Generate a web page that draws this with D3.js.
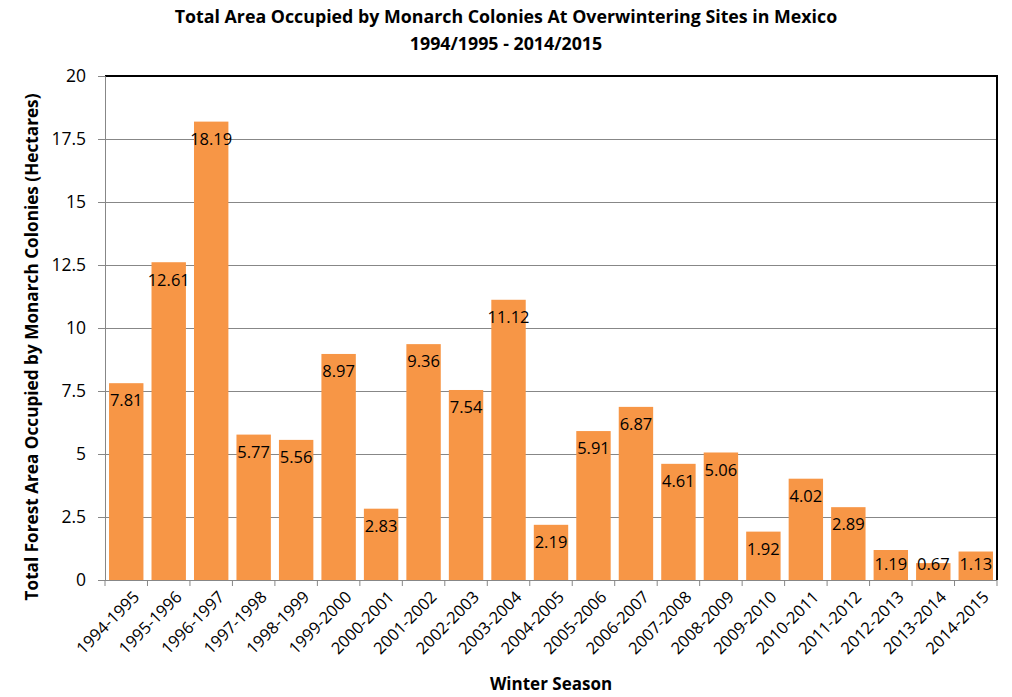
<!DOCTYPE html>
<html><head><meta charset="utf-8">
<script src="https://cdn.jsdelivr.net/npm/d3@7"></script>
<style>body{margin:0;background:#fff}svg{display:block}text{font-family:"Open Sans","Noto Sans",sans-serif}</style>
</head><body><svg id="c" width="1012" height="697"></svg>
<script>
const seasons = ["1994-1995","1995-1996","1996-1997","1997-1998","1998-1999","1999-2000","2000-2001","2001-2002","2002-2003","2003-2004","2004-2005","2005-2006","2006-2007","2007-2008","2008-2009","2009-2010","2010-2011","2011-2012","2012-2013","2013-2014","2014-2015"];
const hectares = [7.81,12.61,18.19,5.77,5.56,8.97,2.83,9.36,7.54,11.12,2.19,5.91,6.87,4.61,5.06,1.92,4.02,2.89,1.19,0.67,1.13];
const yTicks = [0,2.5,5,7.5,10,12.5,15,17.5,20];
const titleLines = ["Total Area Occupied by Monarch Colonies At Overwintering Sites in Mexico","1994/1995 - 2014/2015"];
const yTitle = "Total Forest Area Occupied by Monarch Colonies (Hectares)";
const xTitle = "Winter Season";

const svg = d3.select("#c");
const m = {l:105, r:997, t:76, b:580};
const x = d3.scaleBand().domain(seasons).range([m.l, m.r]).paddingInner(0.19).paddingOuter(0.095);
const y = d3.scaleLinear().domain([0,20]).range([m.b, m.t]);

// gridlines
svg.append("g").selectAll("line").data(yTicks.filter(d=>d>0 && d<20)).join("line")
  .attr("x1", m.l).attr("x2", m.r).attr("y1", d=>y(d)).attr("y2", d=>y(d))
  .attr("stroke", "#878787").attr("stroke-width", 1).attr("shape-rendering","crispEdges");
// top & right border
svg.append("path").attr("d", `M${m.l},${m.t}H${m.r}V${m.b}`).attr("fill","none")
  .attr("stroke","#000").attr("stroke-width",1.2).attr("shape-rendering","crispEdges");

// bars
svg.append("g").selectAll("rect").data(hectares).join("rect")
  .attr("x", (d,i)=>x(seasons[i])).attr("width", x.bandwidth())
  .attr("y", d=>y(d)).attr("height", d=>y(0)-y(d)).attr("fill", "#F79646");

// labels
svg.append("g").selectAll("text").data(hectares).join("text")
  .attr("x", (d,i)=>x(seasons[i]) + x.bandwidth()/2)
  .attr("y", d=>Math.min(y(d)+17.5, y(0)-16))
  .attr("dy","0.35em").attr("text-anchor","middle").attr("font-size", 16.5).attr("fill","#000")
  .text(d=>d.toFixed(2));

// y axis
const ya = svg.append("g").attr("transform", `translate(${m.l},0)`)
  .call(d3.axisLeft(y).tickValues(yTicks).tickSize(7).tickPadding(12).tickFormat(d=>String(d)));
ya.select(".domain").attr("stroke","#878787");
ya.selectAll(".tick line").attr("stroke","#878787");
ya.selectAll("text").attr("font-size",17.5).attr("fill","#000").style("font-family",'"Open Sans",sans-serif');

// x axis (ticks at band boundaries)
const xa = svg.append("g").attr("transform", `translate(0,${m.b})`);
xa.append("line").attr("x1", m.l).attr("x2", m.r).attr("stroke","#878787").attr("shape-rendering","crispEdges");
const bounds = d3.range(seasons.length+1).map(i => m.l + i*(m.r-m.l)/seasons.length);
xa.selectAll("line.tk").data(bounds).join("line").attr("class","tk")
  .attr("x1", d=>d).attr("x2", d=>d).attr("y1",0).attr("y2",6).attr("stroke","#878787");
xa.selectAll("text").data(seasons).join("text")
  .attr("transform", d=>`translate(${x(d)+x.bandwidth()/2+6},10) rotate(-45)`)
  .attr("text-anchor","end").attr("dy","0.7em").attr("font-size",16.5).attr("fill","#000")
  .text(d=>d);

// titles
svg.append("g").selectAll("text").data(titleLines).join("text")
  .attr("x", 506).attr("y", (d,i)=>23 + i*27).attr("text-anchor","middle")
  .attr("font-size",17.8).attr("font-weight","bold").attr("fill","#000").text(d=>d);
svg.append("text").attr("transform","translate(38,347) rotate(-90)").attr("text-anchor","middle")
  .attr("font-size",17.2).attr("font-weight","bold").text(yTitle);
svg.append("text").attr("x",551).attr("y",690).attr("text-anchor","middle")
  .attr("font-size",17).attr("font-weight","bold").text(xTitle);
</script></body></html>
